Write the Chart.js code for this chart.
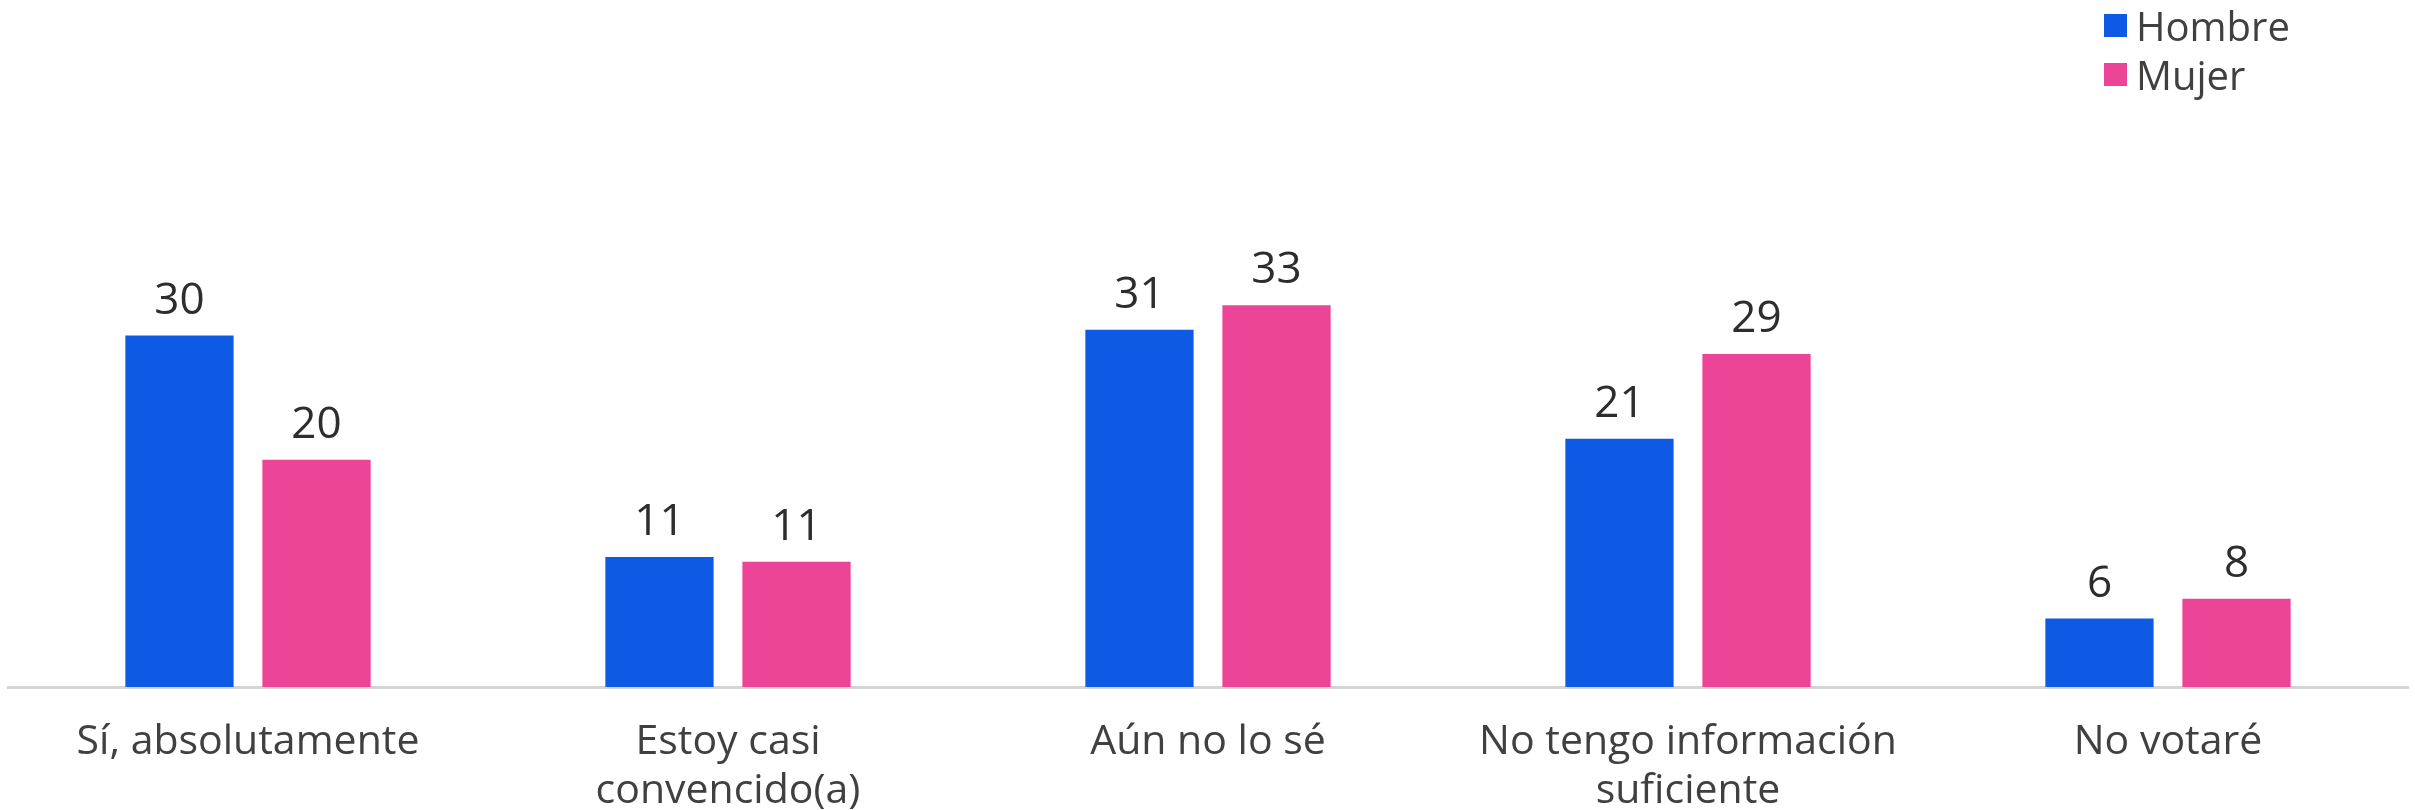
<!DOCTYPE html>
<html>
<head>
<meta charset="utf-8">
<script src="https://cdn.jsdelivr.net/npm/chart.js@4"></script>
<style>
    body { margin: 0; background: #fff; }
    #wrap { position: relative; width: 2415px; height: 810px; overflow: hidden; }
    #legend { position: absolute; top: 1px; left: 2104px; font-family: "Open Sans", sans-serif; font-size: 40px; color: #404040; }
    .item { display: flex; align-items: center; height: 49px; }
    .box { width: 23px; height: 23px; margin-right: 9px; }
</style>
</head>
<body>
<div id="wrap">
    <canvas id="chart"></canvas>
    <div id="legend"></div>
</div>
<script>
const categories = ['Sí, absolutamente', ['Estoy casi', 'convencido(a)'], 'Aún no lo sé', ['No tengo información', 'suficiente'], 'No votaré'];
const seriesNames = ['Hombre', 'Mujer'];
const hombre = [30.3, 11.2, 30.8, 21.4, 5.9];
const mujer = [19.6, 10.8, 32.9, 28.7, 7.6];
const colors = ['#0f5ae5', '#ec4497'];

// value labels above each bar
const valueLabels = {
    id: 'valueLabels',
    afterDatasetsDraw(chart) {
        const ctx = chart.ctx;
        ctx.save();
        ctx.font = '44px "Open Sans"';
        ctx.fillStyle = '#2d2d2d';
        ctx.textAlign = 'center';
        ctx.textBaseline = 'alphabetic';
        chart.data.datasets.forEach((ds, i) => {
            chart.getDatasetMeta(i).data.forEach((bar, j) => {
                ctx.fillText(Math.round(ds.data[j]), bar.x, bar.y - 22);
            });
        });
        ctx.restore();
    }
};

const ctx = document.getElementById('chart').getContext('2d');
new Chart(ctx, {
    type: 'bar',
    data: {
        labels: categories,
        datasets: [
            { label: seriesNames[0], data: hombre, backgroundColor: colors[0] },
            { label: seriesNames[1], data: mujer, backgroundColor: colors[1] }
        ]
    },
    options: {
        responsive: true,
        maintainAspectRatio: false,
        animation: false,
        categoryPercentage: 0.571,
        barPercentage: 0.79,
        layout: { padding: { top: 107, left: 8, right: 7, bottom: 0 } },
        plugins: {
            legend: { display: false },
            tooltip: { enabled: false }
        },
        scales: {
            x: {
                grid: { display: false },
                border: { display: true, color: '#d4d4d4', width: 3 },
                ticks: {
                    color: '#404040',
                    font: { family: 'Open Sans', size: 41, lineHeight: 1.2 },
                    padding: 23,
                    maxRotation: 0,
                    autoSkip: false
                },
                // let the second label line run off the bottom edge, as in the original
                afterFit(axis) { axis.height = 123; }
            },
            y: {
                display: false,
                min: 0,
                max: 50
            }
        }
    },
    plugins: [valueLabels]
});

// legend
const legend = document.getElementById('legend');
seriesNames.forEach((name, i) => {
    const row = document.createElement('div');
    row.className = 'item';
    row.innerHTML = '<span class="box" style="background:' + colors[i] + '"></span><span>' + name + '</span>';
    legend.appendChild(row);
});
</script>
</body>
</html>
